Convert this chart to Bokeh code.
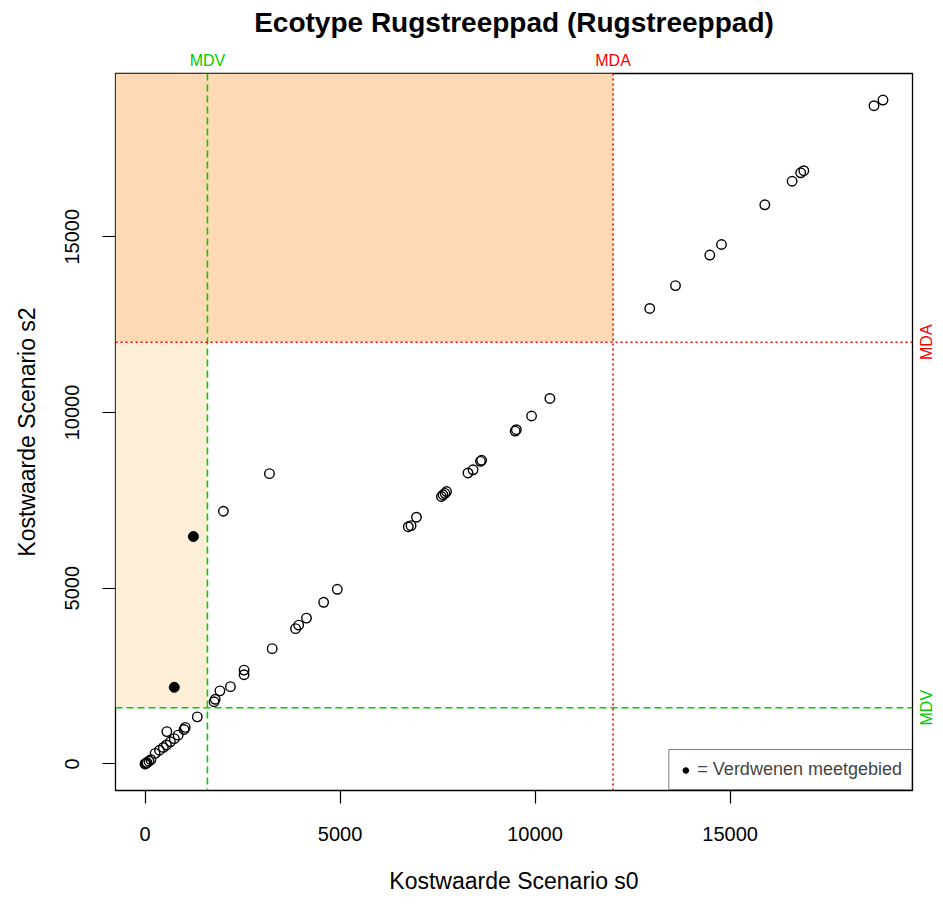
import math
from bokeh.plotting import figure
from bokeh.layouts import column, row
from bokeh.models import (Range1d, BoxAnnotation, Span, Legend, LegendItem,
                          ColumnDataSource, FixedTicker)
from bokeh.core.properties import value
from bokeh.embed import file_html
from bokeh.resources import INLINE

TITLE = "Ecotype Rugstreeppad (Rugstreeppad)"
X_LABEL = "Kostwaarde Scenario s0"
Y_LABEL = "Kostwaarde Scenario s2"
LEGEND_LABEL = "= Verdwenen meetgebied"
MDV = 1600
MDA = 12000
THRESH_VALUES = [MDV, MDA]
THRESH_NAMES = ["MDV", "MDA"]
TICKS = [0, 5000, 10000, 15000]

# open points (remaining measurement areas)
s0_open = [0, 10, 30, 50, 100, 150, 260, 370, 470, 550, 650, 750, 850, 560, 1000, 1030,
           1340, 1770, 1800, 1920, 2190, 2540, 2540, 3260, 3860, 3940, 4140, 4580, 4930,
           6750, 6820, 6960, 7600, 7640, 7690, 7730, 8280, 8410, 8600, 8630, 9490, 9520,
           9910, 10380, 12940, 13600, 14480, 14780, 15890, 16590, 16810, 16890, 18690, 18920,
           2010, 3190]
s2_open = [0, 5, 20, 40, 80, 120, 300, 390, 470, 540, 630, 720, 820, 920, 980, 1040,
           1340, 1770, 1840, 2080, 2200, 2540, 2670, 3280, 3850, 3950, 4150, 4600, 4970,
           6750, 6780, 7020, 7610, 7660, 7700, 7750, 8280, 8370, 8610, 8640, 9470, 9510,
           9900, 10400, 12960, 13610, 14480, 14780, 15910, 16580, 16820, 16880, 18730, 18890,
           7190, 8260]
# filled points (disappeared measurement areas)
s0_gone = [1240, 750]
s2_gone = [6470, 2180]

GREEN = "#00CD00"
RED = "#FF0000"
THRESH_COLORS = [GREEN, RED]
FONT = "Liberation Sans"

# layout (pixels)
LEFT, FRAME_W, RIGHT_GAP, RIGHT_STRIP = 115, 797, 2, 21
TOP_STRIP, TOP_GAP, FRAME_H, BOTTOM = 71, 2, 717, 106
MAIN_W = LEFT + FRAME_W + RIGHT_GAP
MAIN_H = TOP_GAP + FRAME_H + BOTTOM
TOTAL_W = MAIN_W + RIGHT_STRIP

all_x = s0_open + s0_gone
all_y = s2_open + s2_gone
xs = max(all_x) - min(all_x)
ys = max(all_y) - min(all_y)
x_range = Range1d(min(all_x) - 0.04 * xs, max(all_x) + 0.04 * xs)
y_range = Range1d(min(all_y) - 0.04 * ys, max(all_y) + 0.04 * ys)

# ---- main plot ----
p = figure(width=MAIN_W, height=MAIN_H, x_range=x_range, y_range=y_range,
           output_backend="svg", toolbar_location=None,
           min_border_left=LEFT, min_border_right=RIGHT_GAP,
           min_border_top=TOP_GAP, min_border_bottom=BOTTOM)
p.grid.visible = False
p.outline_line_color = "black"
p.outline_line_width = 1.3
p.background_fill_color = "white"

p.add_layout(BoxAnnotation(right=MDA, bottom=MDA, fill_color="#FDD9B6", fill_alpha=1,
                           line_color=None, level="underlay"))
p.add_layout(BoxAnnotation(right=MDV, bottom=MDV, top=MDA, fill_color="#FDEED8", fill_alpha=1,
                           line_color=None, level="underlay"))

for loc, dim, col, dash in [(MDV, "height", GREEN, "7 4"), (MDV, "width", GREEN, "7 4"),
                            (MDA, "height", RED, "2 3"), (MDA, "width", RED, "2 3")]:
    p.add_layout(Span(location=loc, dimension=dim, line_color=col, line_width=1.6,
                      line_dash=dash))

src_open = ColumnDataSource(dict(x=s0_open, y=s2_open))
src_gone = ColumnDataSource(dict(x=s0_gone, y=s2_gone))
p.scatter("x", "y", source=src_open, marker="circle", size=9.5, fill_color=None,
          line_color="black", line_width=1.4)
r_gone = p.scatter("x", "y", source=src_gone, marker="circle", size=10, fill_color="black",
                   line_color="black", line_width=1)

for ax in (p.xaxis, p.yaxis):
    ax.ticker = FixedTicker(ticks=TICKS)
    ax.axis_line_color = None
    ax.major_tick_line_color = "black"
    ax.major_tick_line_width = 1.2
    ax.major_tick_out = 13
    ax.major_tick_in = 0
    ax.minor_tick_line_color = None
    ax.major_label_text_font = FONT
    ax.major_label_text_font_size = "20px"
    ax.major_label_text_color = "black"
    ax.axis_label_text_font = FONT
    ax.axis_label_text_font_size = "23px"
    ax.axis_label_text_font_style = "normal"
    ax.axis_label_text_color = "black"
p.xaxis.axis_label = X_LABEL
p.yaxis.axis_label = Y_LABEL
p.xaxis.major_label_standoff = 23
p.xaxis.axis_label_standoff = 24
p.yaxis.major_label_orientation = "parallel"
p.yaxis.major_label_standoff = 23
p.yaxis.axis_label_standoff = 23

legend = Legend(items=[LegendItem(label=LEGEND_LABEL, renderers=[r_gone])],
                location="bottom_right", margin=0, padding=9, spacing=0,
                border_line_color="black", border_line_width=1.2,
                background_fill_alpha=1, label_text_font=FONT,
                label_text_font_size="18px", glyph_width=14, glyph_height=14,
                label_standoff=5)
p.add_layout(legend)

# ---- top strip: title and threshold names ----
top = figure(width=TOTAL_W, height=TOP_STRIP, x_range=x_range, y_range=Range1d(0, TOP_STRIP),
             output_backend="svg", toolbar_location=None, x_axis_type=None, y_axis_type=None,
             min_border_left=LEFT, min_border_right=TOTAL_W - LEFT - FRAME_W,
             min_border_top=0, min_border_bottom=0)
top.grid.visible = False
top.outline_line_color = None
top.text(x=[(x_range.start + x_range.end) / 2], y=[TOP_STRIP - 22], text=[TITLE],
         text_font=value(FONT), text_font_size="28px", text_font_style="bold",
         text_color="black", text_align="center", text_baseline="middle")
top.text(x=THRESH_VALUES, y=[TOP_STRIP - 60] * 2, text=THRESH_NAMES, text_color=THRESH_COLORS,
         text_font=value(FONT), text_font_size="16px", text_align="center",
         text_baseline="middle")

# ---- right strip: threshold names ----
right = figure(width=RIGHT_STRIP, height=MAIN_H, x_range=Range1d(0, RIGHT_STRIP), y_range=y_range,
               output_backend="svg", toolbar_location=None, x_axis_type=None, y_axis_type=None,
               min_border_left=0, min_border_right=0,
               min_border_top=TOP_GAP, min_border_bottom=BOTTOM)
right.grid.visible = False
right.outline_line_color = None
right.text(x=[12] * 2, y=THRESH_VALUES, text=THRESH_NAMES, text_color=THRESH_COLORS,
           text_font=value(FONT), text_font_size="16px", text_align="center",
           text_baseline="middle", angle=math.pi / 2)

layout = column(top, row(p, right, spacing=0), spacing=0)
open("out.html", "w").write(file_html(layout, INLINE))
